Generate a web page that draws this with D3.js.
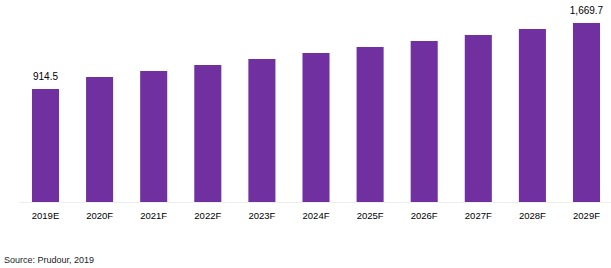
<!DOCTYPE html>
<html>
<head>
<meta charset="utf-8">
<script src="https://cdn.jsdelivr.net/npm/d3@7/dist/d3.min.js"></script>
<style>
html,body{margin:0;padding:0;background:#fff;}
svg{display:block;}
</style>
</head>
<body>
<svg id="chart" width="611" height="268"></svg>
<script>
const categories = ["2019E","2020F","2021F","2022F","2023F","2024F","2025F","2026F","2027F","2028F","2029F"];
const values = [914.5, 1051.7, 1120.4, 1189.0, 1257.7, 1326.3, 1395.0, 1463.6, 1532.3, 1601.0, 1669.7];
const labelledIndex = [0, 10];
const axisMin = -378.6;
const sourceText = "Source: Prudour, 2019";

const svg = d3.select("#chart");
const baseY = 202, topY = 23;

const x = d3.scaleBand()
  .domain(categories)
  .range([18.45, 613.55])
  .paddingInner(0.5)
  .paddingOuter(0.25);

const y = d3.scaleLinear()
  .domain([axisMin, d3.max(values)])
  .range([baseY, topY]);

// baseline
svg.append("line")
  .attr("x1", 19).attr("x2", 611)
  .attr("y1", baseY + 0.5).attr("y2", baseY + 0.5)
  .attr("stroke", "#eeeeee").attr("stroke-width", 1);

svg.append("g").selectAll("rect")
  .data(values)
  .join("rect")
  .attr("x", (d,i) => x(categories[i]))
  .attr("width", x.bandwidth())
  .attr("y", d => y(d))
  .attr("height", d => baseY - y(d))
  .attr("fill", "#7030A0");

const fmt = d3.format(",.1f");
svg.append("g").selectAll("text")
  .data(labelledIndex)
  .join("text")
  .attr("x", i => x(categories[i]) + x.bandwidth()/2)
  .attr("y", i => y(values[i]) - 9)
  .attr("text-anchor", "middle")
  .attr("font-family", "Liberation Sans, Arial, sans-serif")
  .attr("font-size", "10px")
  .attr("fill", "#000")
  .text(i => fmt(values[i]));

const axis = d3.axisBottom(x).tickSize(0).tickPadding(0);
const ag = svg.append("g").attr("transform", `translate(0,${baseY})`).call(axis);
ag.select(".domain").remove();
ag.selectAll("text")
  .attr("dy", null)
  .attr("y", 16.5)
  .attr("font-family", "Liberation Sans, Arial, sans-serif")
  .attr("font-size", "9.5px")
  .attr("fill", "#000");

svg.append("text")
  .attr("x", 4).attr("y", 263)
  .attr("font-family", "Liberation Sans, Arial, sans-serif")
  .attr("font-size", "9px")
  .attr("fill", "#222")
  .text(sourceText);
</script>
</body>
</html>
